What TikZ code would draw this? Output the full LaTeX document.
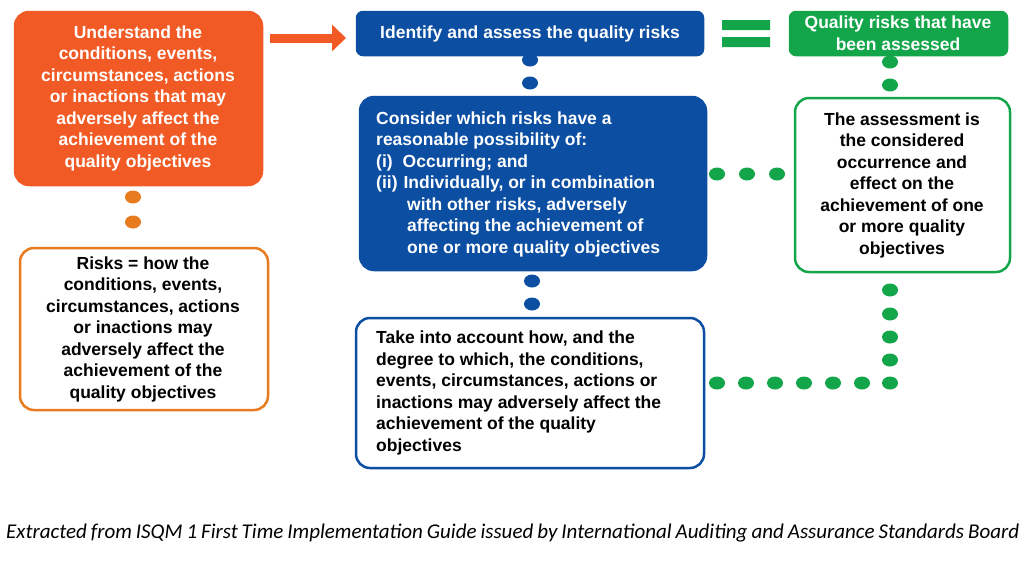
\documentclass[tikz,border=0pt]{standalone}
\usepackage{fontspec}
\setmainfont{Liberation Sans}
\newfontfamily\capfont{Carlito}
\usetikzlibrary{arrows.meta}
\definecolor{isqmorange}{HTML}{F15A24}
\definecolor{isqmamber}{HTML}{E87B1E}
\definecolor{isqmblue}{HTML}{0B4EA2}
\definecolor{isqmgreen}{HTML}{12A54A}
\tikzset{
  box/.style={rounded corners=14pt,line width=2.5pt},
  fullbox/.style={box,fill=#1,draw=#1},
  linebox/.style={box,draw=#1,fill=white},
  txt/.style={font=\bfseries\fontsize{17.5}{21.5}\selectfont,inner sep=0pt},
  dot/.style={ellipse,minimum width=16pt,minimum height=13pt,inner sep=0pt,fill=#1},
}
\usetikzlibrary{shapes.geometric}
\begin{document}
\begin{tikzpicture}[x=1pt,y=-1pt]
\useasboundingbox (0,0) rectangle (1024,562);
% boxes
\draw [fullbox=isqmorange] (15,12) rectangle (262,185);
\node (understand) at (138,98) [txt,align=center,text=white]
  {Understand the\\conditions, events,\\circumstances, actions\\or inactions that may\\adversely affect the\\achievement of the\\quality objectives};
\draw [linebox=isqmamber] (20,248) rectangle (268,410);
\node (risks) at (143,329) [txt,align=center]
  {Risks = how the\\conditions, events,\\circumstances, actions\\or inactions may\\adversely affect the\\achievement of the\\quality objectives};
\draw [fullbox=isqmblue,rounded corners=6pt] (357,12) rectangle (703,55);
\node (identify) at (530,34) [txt,text=white]
  {Identify and assess the quality risks};
\draw [fullbox=isqmgreen,rounded corners=6pt] (790,12) rectangle (1007,55);
\node (assessed) at (898,33) [txt,align=center,text=white]
  {Quality risks that have\\been assessed};
\draw [fullbox=isqmblue] (360,97) rectangle (706,270);
\node (consider) at (376,184) [txt,anchor=west,align=left,text=white]
  {Consider which risks have a\\reasonable possibility of:\\(i)\hspace{10pt}Occurring; and\\(ii)\hspace{6pt}Individually, or in combination\\\hspace{31pt}with other risks, adversely\\\hspace{31pt}affecting the achievement of\\\hspace{31pt}one or more quality objectives};
\draw [linebox=isqmblue] (356,318) rectangle (704,468);
\node (account) at (376,393) [txt,anchor=west,align=left]
  {Take into account how, and the\\degree to which, the conditions,\\events, circumstances, actions or\\inactions may adversely affect the\\achievement of the quality\\objectives};
\draw [linebox=isqmgreen] (795,98) rectangle (1010,272);
\node (assessment) at (902,185) [txt,align=center]
  {The assessment is\\the considered\\occurrence and\\effect on the\\achievement of one\\or more quality\\objectives};
% arrow and equals
\draw [isqmorange,line width=9pt,-{Triangle[length=14pt,width=26pt]}] (270,38) -- (346,38);
\fill [isqmgreen] (722,20) rectangle (770,30) (722,37) rectangle (770,47);
% dots
\foreach \y in {197,222} \node [dot=isqmamber] at (133,\y) {};
\foreach \y in {60,83} \node [dot=isqmblue] at (530,\y) {};
\foreach \y in {281,304} \node [dot=isqmblue] at (532,\y) {};
\foreach \y in {62,85} \node [dot=isqmgreen] at (890,\y) {};
\foreach \x in {717,747,777} \node [dot=isqmgreen] at (\x,174) {};
\foreach \y in {290,314,337,360,383} \node [dot=isqmgreen] at (890,\y) {};
\foreach \x in {717,746,775,804,833,862} \node [dot=isqmgreen] at (\x,383) {};
% caption
\node (caption) at (6,533) [anchor=west,align=justify,text width=1013pt,inner sep=0pt,font=\capfont\itshape\fontsize{21}{32}\selectfont]
  {Extracted from ISQM 1 First Time Implementation Guide issued by International Auditing and Assurance Standards Board};
\end{tikzpicture}
\end{document}
